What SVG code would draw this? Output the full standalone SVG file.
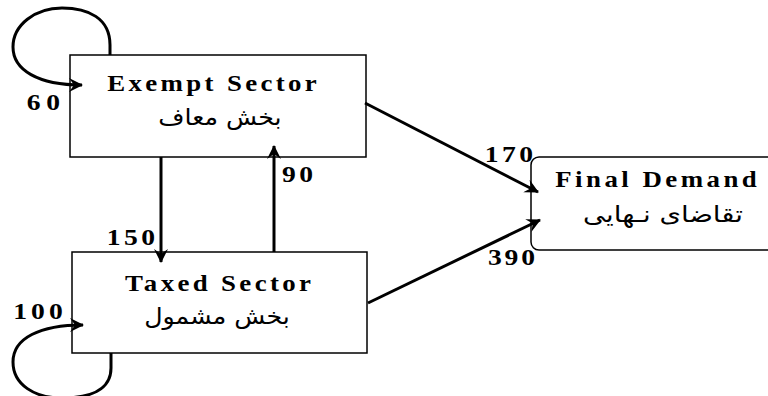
<svg xmlns="http://www.w3.org/2000/svg" width="768" height="396" viewBox="0 0 768 396">
<style>
.box{fill:#fff;stroke:#000;stroke-width:1.5}
.en{font-family:"Liberation Serif","Times New Roman",serif;font-weight:bold;font-size:24px;fill:#000;text-anchor:middle}
.fa{font-family:"DejaVu Sans","Noto Sans",sans-serif;font-size:23px;fill:#000;text-anchor:middle}
.num{font-family:"Liberation Serif","Times New Roman",serif;font-weight:bold;font-size:24px;fill:#000;text-anchor:middle}
.ln{fill:none;stroke:#000;stroke-width:3;marker-end:url(#ah)}
</style>
<defs>
<marker id="ah" markerUnits="userSpaceOnUse" markerWidth="16" markerHeight="16" refX="13" refY="7" orient="auto" viewBox="0 0 16 14">
<path d="M0,0 L14,7 L0,14 L5,7 z" fill="#000"/>
</marker>
</defs>
<rect width="768" height="396" fill="#fff"/>
<g id="exempt">
<rect class="box" x="70" y="55" width="296" height="102"/>
<text class="en" transform="translate(212,91) scale(1.12,1)" textLength="187">Exempt Sector</text>
<text class="fa" transform="translate(220,125) scale(1.1,1)" direction="rtl">بخش معاف</text>
</g>
<g id="taxed">
<rect class="box" x="72" y="252" width="295" height="101"/>
<text class="en" transform="translate(218,291) scale(1.12,1)" textLength="166">Taxed Sector</text>
<text class="fa" transform="translate(217,324) scale(1.1,1)" direction="rtl">بخش مشمول</text>
</g>
<g id="final">
<rect class="box" x="531" y="157" width="250" height="93" rx="8"/>
<text class="en" transform="translate(656,187) scale(1.12,1)" textLength="180">Final Demand</text>
<text class="fa" transform="translate(663,222) scale(1.2,1)" direction="rtl">تقاضای نـهایی</text>
</g>
<g id="connectors">
<path class="ln" d="M110,55 L110,45 C110,18 88,8 62,8 C35,8 13,25 13,47 C13,70 38,85 82,85"/>
<path class="ln" d="M111,353 L111,368 C111,390 90,398 62,398 C35,398 13,385 13,362 C13,338 40,325 83,325"/>
<path class="ln" d="M161,157 L161,262"/>
<path class="ln" d="M274,252 L274,146"/>
<path class="ln" d="M365,103 L538,192"/>
<path class="ln" d="M368,303 L540,220"/>
</g>
<g id="labels">
<text class="num" transform="translate(43.5,110) scale(1.15,1)" textLength="29">60</text>
<text class="num" transform="translate(38,319) scale(1.15,1)" textLength="43">100</text>
<text class="num" transform="translate(131,245) scale(1.15,1)" textLength="42">150</text>
<text class="num" transform="translate(297.5,182) scale(1.15,1)" textLength="27">90</text>
<text class="num" transform="translate(509,162) scale(1.15,1)" textLength="42">170</text>
<text class="num" transform="translate(511.5,265) scale(1.15,1)" textLength="41">390</text>
</g>
</svg>
